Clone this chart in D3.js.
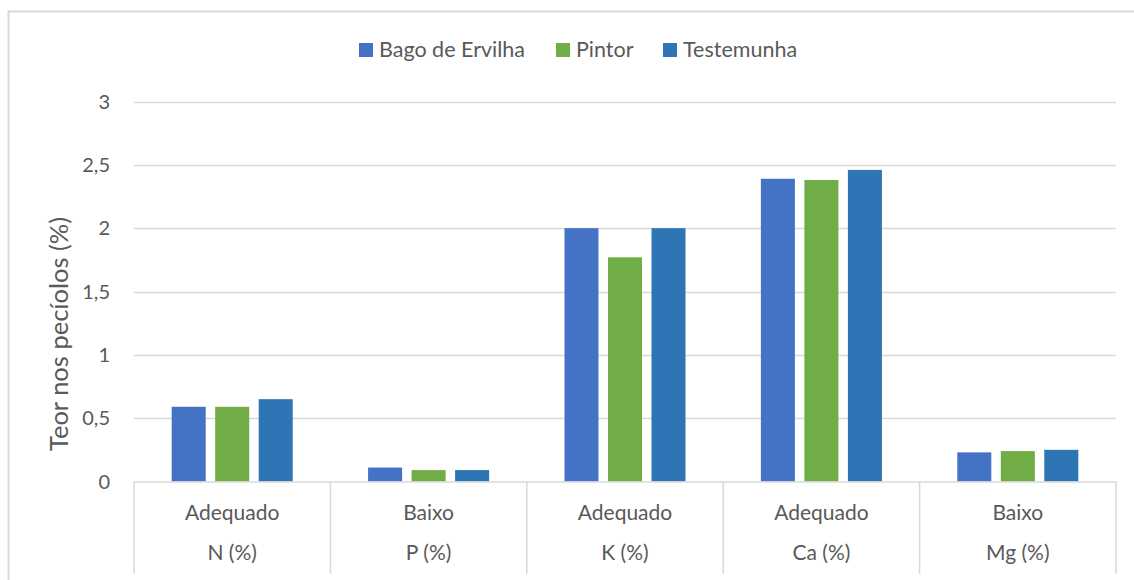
<!DOCTYPE html>
<html><head><meta charset="utf-8">
<script src="https://cdn.jsdelivr.net/npm/d3@7"></script>
<style>body{margin:0;background:#fff}svg{display:block}text{font-family:Lato,"Open Sans",sans-serif;fill:#595959}</style>
</head><body>
<script>
const categories = ["N (%)", "P (%)", "K (%)", "Ca (%)", "Mg (%)"];
const classes = ["Adequado", "Baixo", "Adequado", "Adequado", "Baixo"];
const seriesNames = ["Bago de Ervilha", "Pintor", "Testemunha"];
const bagoDeErvilha = [0.59, 0.11, 2.00, 2.39, 0.23];
const pintor = [0.59, 0.09, 1.77, 2.38, 0.24];
const testemunha = [0.65, 0.09, 2.00, 2.46, 0.25];
const yTicks = [0, 0.5, 1, 1.5, 2, 2.5, 3];
const colors = ["#4472C4", "#70AD47", "#2E75B6"];

const W = 1134, H = 580;
const svg = d3.select("body").append("svg").attr("width", W).attr("height", H);
const pLeft = 134, pRight = 1116, pTop = 101.5, pBottom = 481.5;

// outer border
svg.append("path").attr("d", `M8.5,${H} V11.5 H${W}`).attr("fill","none").attr("stroke","#d9d9d9").attr("stroke-width",2);

const y = d3.scaleLinear().domain([0,3]).range([pBottom, pTop]);
const x = d3.scaleBand().domain(categories).range([pLeft, pRight]).paddingInner(0).paddingOuter(0);
const xs = d3.scaleBand().domain(seriesNames).range([0, x.bandwidth()]).paddingInner(0.218).paddingOuter(0.866);

// gridlines
svg.append("g").selectAll("line").data(yTicks.filter(d=>d>0)).join("line")
  .attr("x1", pLeft).attr("x2", pRight).attr("y1", d=>Math.round(y(d))+0.5).attr("y2", d=>Math.round(y(d))+0.5)
  .attr("stroke","#d9d9d9").attr("stroke-width",1.5);

// y axis labels
const fmt = d => String(d).replace(".", ",");
svg.append("g").selectAll("text").data(yTicks).join("text")
  .attr("x", 110).attr("y", d=>y(d)).attr("dy","0.35em").attr("text-anchor","end")
  .style("font-size","20px").text(fmt);

svg.append("text").attr("transform", `translate(68,334) rotate(-90)`)
  .attr("text-anchor","middle").style("font-size","25.5px").text("Teor nos pecíolos (%)");

// bars
const series = [bagoDeErvilha, pintor, testemunha];
series.forEach((vals, si) => {
  svg.append("g").selectAll("rect").data(vals).join("rect")
    .attr("x", (d,i)=>x(categories[i]) + xs(seriesNames[si]))
    .attr("width", xs.bandwidth())
    .attr("y", d=>y(d)).attr("height", d=>pBottom - y(d))
    .attr("fill", colors[si]);
});

// x axis baseline and separators
svg.append("line").attr("x1", pLeft).attr("x2", pRight).attr("y1", pBottom+0.5).attr("y2", pBottom+0.5)
  .attr("stroke","#d9d9d9").attr("stroke-width",1.5);
const seps = categories.map(c=>x(c)).concat([pRight]);
svg.append("g").selectAll("line").data(seps).join("line")
  .attr("x1", d=>d).attr("x2", d=>d).attr("y1", pBottom).attr("y2", 574)
  .attr("stroke","#d9d9d9").attr("stroke-width",1.5);

svg.append("g").selectAll("text").data(categories).join("text")
  .attr("x", d=>x(d)+x.bandwidth()/2).attr("y", 520).attr("text-anchor","middle")
  .style("font-size","21px").text((d,i)=>classes[i]);
svg.append("g").selectAll("text").data(categories).join("text")
  .attr("x", d=>x(d)+x.bandwidth()/2).attr("y", 560).attr("text-anchor","middle")
  .style("font-size","21px").text(d=>d);

// legend
const legX = [359, 556, 663];
const lg = svg.append("g");
seriesNames.forEach((n,i)=>{
  lg.append("rect").attr("x", legX[i]).attr("y", 43).attr("width",14).attr("height",14).attr("fill", colors[i]);
  lg.append("text").attr("x", legX[i]+20).attr("y", 57).style("font-size","21.5px").text(n);
});
</script>
</body></html>
